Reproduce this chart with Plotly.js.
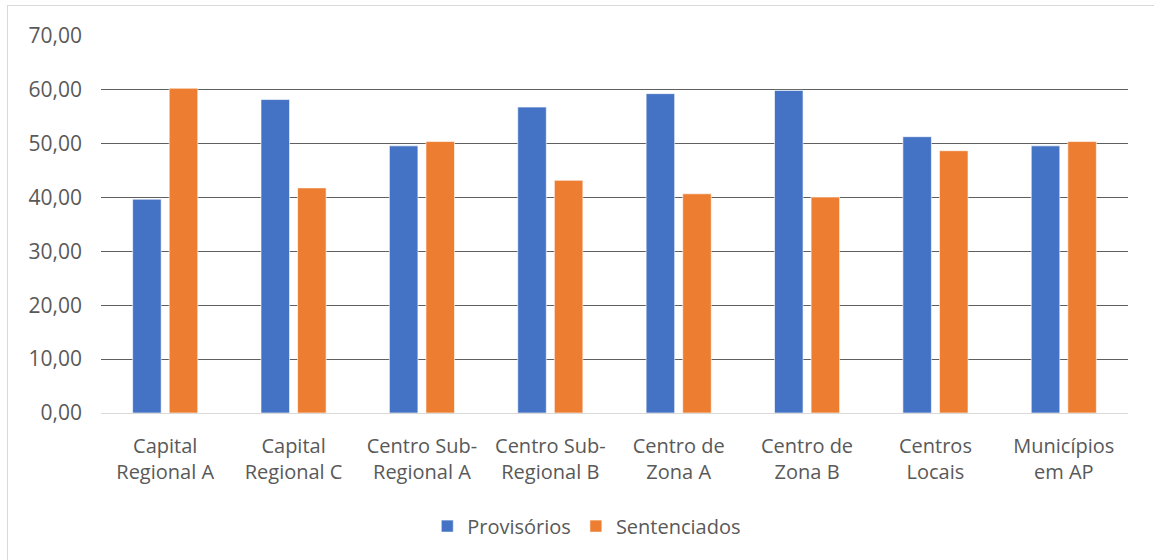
<!DOCTYPE html>
<html>
<head>
<meta charset="utf-8">
<script src="https://cdn.plot.ly/plotly-3.0.1.min.js"></script>
<style>
  body { margin: 0; background: #fff; }
  #chart { width: 1154px; height: 560px; }
  #frame { position: absolute; left: 7px; top: 5px; width: 1160px; height: 570px;
           border: 1px solid #d9d9d9; pointer-events: none; }
</style>
</head>
<body>
<div id="chart"></div>
<div id="frame"></div>
<script>
// categories and the two series (percent of inmates)
var categorias = ['Capital<br>Regional A', 'Capital<br>Regional C', 'Centro Sub-<br>Regional A',
                  'Centro Sub-<br>Regional B', 'Centro de<br>Zona A', 'Centro de<br>Zona B',
                  'Centros<br>Locais', 'Municípios<br>em AP'];
var provisorios  = [39.7, 58.2, 49.6, 56.8, 59.3, 59.9, 51.3, 49.6];
var sentenciados = [60.3, 41.8, 50.4, 43.2, 40.7, 40.1, 48.7, 50.4];
var yTicks = [0, 10, 20, 30, 40, 50, 60, 70];

var textColor = '#595959';
var fontFam = '"Open Sans", "DejaVu Sans", sans-serif';

var traceProv = {
    type: 'bar',
    name: 'Provisórios',
    x: categorias,
    y: provisorios,
    marker: { color: '#4472C4', line: { color: 'rgba(255,255,255,0.6)', width: 1 } },
    hoverinfo: 'y'
};

var traceSent = {
    type: 'bar',
    name: 'Sentenciados',
    x: categorias,
    y: sentenciados,
    marker: { color: '#ED7D31', line: { color: 'rgba(255,255,255,0.6)', width: 1 } },
    hoverinfo: 'y'
};

var layout = {
    width: 1154,
    height: 560,
    margin: { l: 101, r: 26, t: 35.5, b: 146.5 },
    paper_bgcolor: '#fff',
    plot_bgcolor: '#fff',
    font: { family: fontFam, size: 20, color: textColor },
    barmode: 'group',
    bargap: 0.43,
    bargroupgap: 0.22,
    showlegend: true,
    legend: {
        orientation: 'h',
        x: 0.473, xanchor: 'center',
        y: -0.30, yanchor: 'middle',
        font: { family: fontFam, size: 20, color: textColor },
        itemwidth: 30,
        traceorder: 'normal'
    },
    xaxis: {
        type: 'category',
        showgrid: false,
        showline: true,
        linecolor: '#d9d9d9',
        linewidth: 1,
        ticks: '',
        ticklabelstandoff: 15,
        tickfont: { family: fontFam, size: 20, color: textColor },
        fixedrange: true
    },
    yaxis: {
        range: [0, 70],
        tickvals: yTicks,
        ticktext: yTicks.map(function(v) { return v.toFixed(2).replace('.', ','); }),
        showgrid: true,
        gridcolor: '#5f5f5f',
        gridwidth: 1,
        zeroline: false,
        showline: false,
        ticks: '',
        ticklabelstandoff: 18,
        tickfont: { family: fontFam, size: 21, color: textColor },
        fixedrange: true
    }
};

Plotly.newPlot('chart', [traceProv, traceSent], layout, { displayModeBar: false, responsive: false });
</script>
</body>
</html>
